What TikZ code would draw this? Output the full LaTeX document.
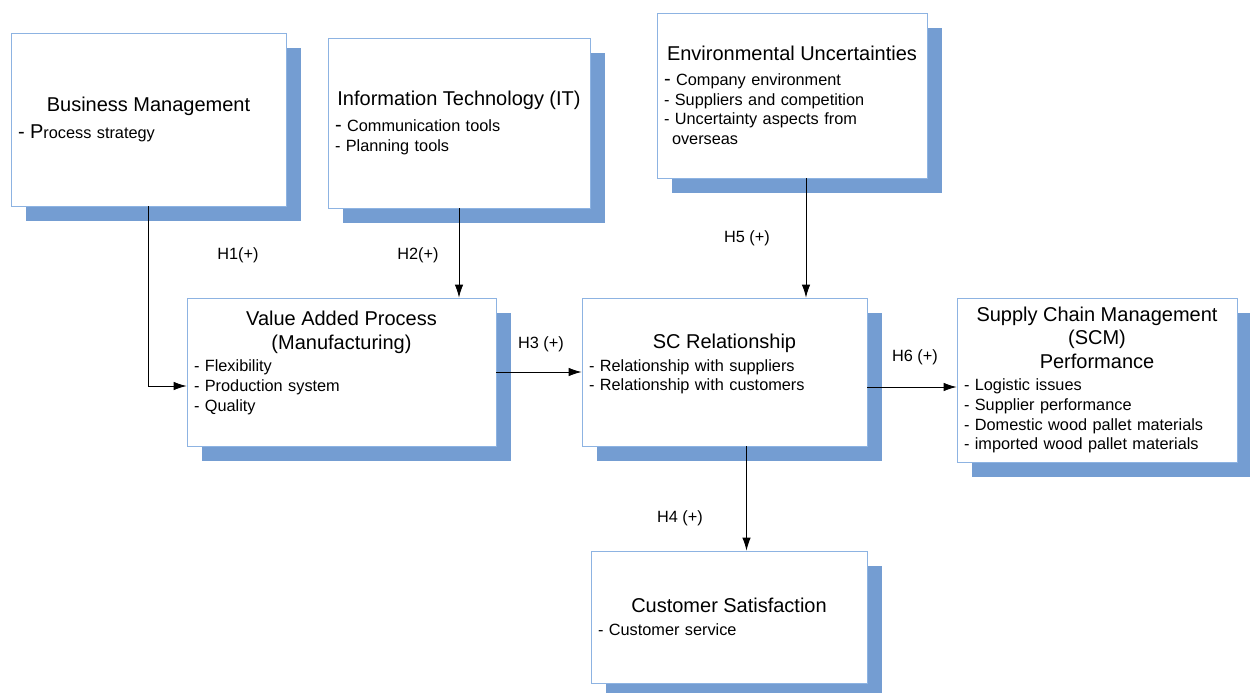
\documentclass[tikz,border=0pt]{standalone}
\usepackage{fontspec}
\setmainfont{Liberation Sans}
\usetikzlibrary{arrows.meta,shadows}

\definecolor{boxline}{RGB}{141,179,226}
\definecolor{boxshade}{RGB}{116,157,210}

\newcommand{\titlefont}{\fontsize{20}{23.5}\selectfont}
\newcommand{\itemfont}{\fontsize{16.3}{19.7}\selectfont}
\newcommand{\blocktitle}[2][3pt]{{\centering\titlefont #2\par}\vspace{#1}}
\newcommand{\liftblock}[1]{\par\vspace{#1}\hrule height 0pt}

\tikzset{
    block/.style={
        draw=boxline, fill=white, line width=0.8pt,
        inner xsep=7pt, inner ysep=4pt, align=left, font=\itemfont,
        drop shadow={shadow xshift=15pt, shadow yshift=-15pt,
            fill=boxshade, opacity=1}},
    link/.style={-{Latex[length=13pt,width=8.5pt]}, line width=0.9pt},
    hyp/.style={font=\itemfont, inner sep=1pt}
}

\begin{document}
\begin{tikzpicture}[x=1pt,y=-1pt]
    \useasboundingbox (0,0) rectangle (1250,693);

    % factors
    \node[block, text width=261pt, minimum height=173pt] (bm) at (148.5,119.5)
        {\blocktitle[7pt]{Business Management}{\titlefont- P}rocess strategy};
    \node[block, text width=248pt, minimum height=170pt] (it) at (459,123)
        {\blocktitle[6pt]{Information Technology (IT)}{\titlefont-} Communication tools\\
         - Planning tools};
    \node[block, text width=256pt, minimum height=165pt] (eu) at (792,95.5)
        {\blocktitle[5pt]{Environmental Uncertainties}{\titlefont-} Company environment\\
         - Suppliers and competition\\
         - Uncertainty aspects from\\
         \hspace*{8pt}overseas};

    \node[block, text width=295pt, minimum height=148pt] (vap) at (341.5,372)
        {\blocktitle{Value Added Process\\(Manufacturing)}- Flexibility\\
         - Production system\\
         - Quality\liftblock{18pt}};
    \node[block, text width=271pt, minimum height=148pt] (scr) at (724.5,372)
        {\blocktitle{SC Relationship}- Relationship with suppliers\\
         - Relationship with customers\liftblock{16pt}};
    \node[block, text width=266pt, minimum height=164pt] (scm) at (1097,380)
        {\blocktitle{Supply Chain Management\\(SCM)\\Performance}- Logistic issues\\
         - Supplier performance\\
         - Domestic wood pallet materials\\
         - imported wood pallet materials};

    \node[block, text width=262pt, minimum height=132pt] (cs) at (729,617)
        {\blocktitle{Customer Satisfaction}- Customer service};

    % hypotheses
    \draw[link] (bm.south) |- ([yshift=-14pt]vap.west);
    \draw[link] (it.south) -- (it.south |- vap.north);
    \draw[link] ([xshift=14pt]eu.south) -- ([xshift=14pt]eu.south |- scr.north);
    \draw[link] (vap.east) -- (scr.west);
    \draw[link] ([yshift=-15pt]scr.east) -- ([yshift=-15pt]scr.east -| scm.west);
    \draw[link] ([xshift=22pt]scr.south) -- ([xshift=22pt]scr.south |- cs.north);

    \node[hyp] (h1) at (238,255) {H1(+)};
    \node[hyp] (h2) at (418,255) {H2(+)};
    \node[hyp] (h3) at (541,344) {H3 (+)};
    \node[hyp] (h4) at (680,518) {H4 (+)};
    \node[hyp] (h5) at (747,238) {H5 (+)};
    \node[hyp] (h6) at (915,357) {H6 (+)};
\end{tikzpicture}
\end{document}
